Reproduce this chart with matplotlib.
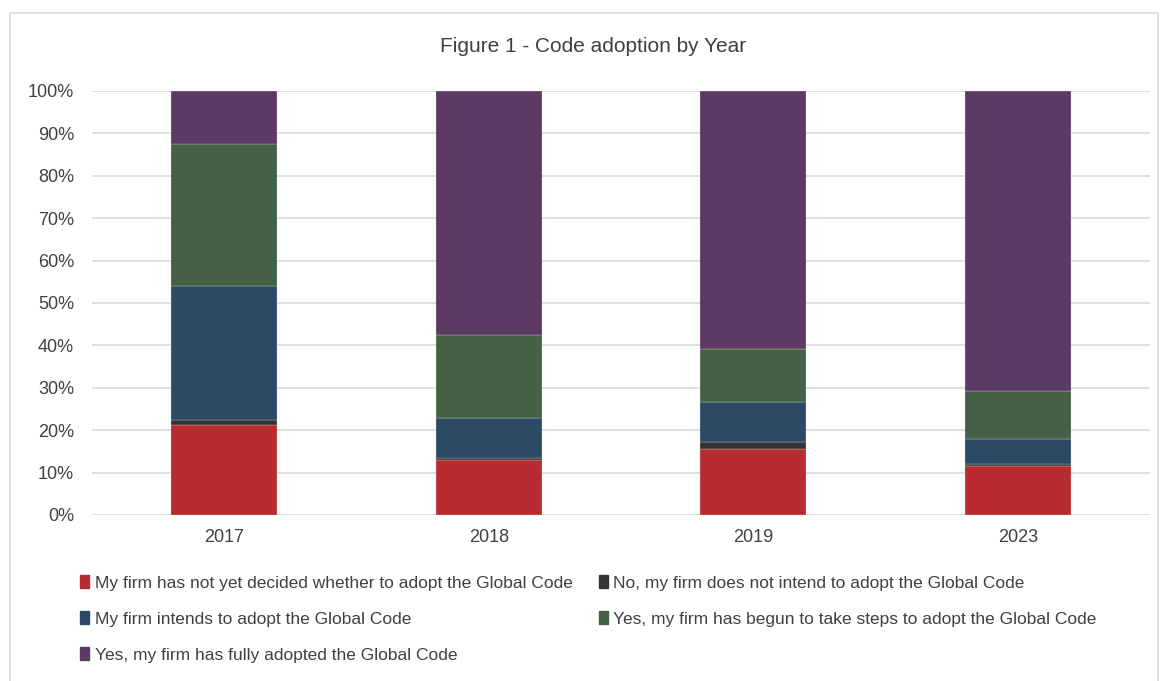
import matplotlib.pyplot as plt
import numpy as np
from matplotlib.patches import Rectangle, Patch
from matplotlib.ticker import PercentFormatter

plt.rcParams['font.family'] = ['Liberation Sans Narrow', 'Liberation Sans', 'DejaVu Sans']

years = ["2017", "2018", "2019", "2023"]
series = [
    "My firm has not yet decided whether to adopt the Global Code",
    "No, my firm does not intend to adopt the Global Code",
    "My firm intends to adopt the Global Code",
    "Yes, my firm has begun to take steps to adopt the Global Code",
    "Yes, my firm has fully adopted the Global Code",
]
not_decided = [21.2, 13.0, 15.6, 11.5]
not_intend = [1.2, 0.5, 1.6, 0.5]
intends = [31.6, 9.4, 9.5, 5.9]
begun = [33.5, 19.6, 12.5, 11.3]
fully = [12.5, 57.5, 60.8, 70.8]
colors = ["#B82C2F", "#333333", "#2C4A66", "#466046", "#5C3A63"]

values = [not_decided, not_intend, intends, begun, fully]

fig = plt.figure(figsize=(11.68, 6.81), dpi=100)
ax = fig.add_axes([0.0788, 0.2438, 0.9058, 0.6226])

x = np.arange(len(years))
bottom = np.zeros(len(years))
for vals, col in zip(values, colors):
    v = np.array(vals) / 100
    ax.bar(x, v, 0.4, bottom=bottom, color=col, edgecolor="#e0e0e0", linewidth=0.2, zorder=3)
    bottom += v

ax.set_xlim(-0.5, len(years) - 0.5)
ax.set_ylim(0, 1)
ax.set_yticks(np.arange(0, 1.01, 0.1))
ax.yaxis.set_major_formatter(PercentFormatter(1.0, decimals=0))
ax.set_xticks(x)
ax.set_xticklabels(years)
ax.grid(axis="y", color="#d9d9d9", linewidth=1.2, zorder=0)
for s in ax.spines.values():
    s.set_visible(False)
ax.tick_params(length=0, labelsize=13, colors="#404040")
ax.tick_params(axis="x", pad=10)
ax.tick_params(axis="y", pad=13)

fig.text(0.508, 0.932, "Figure 1 - Code adoption by Year", ha="center", va="center",
         fontsize=15, color="#404040")

# legend in row-major order
order = [0, 2, 4, 1, 3]
handles = [Patch(color=colors[i]) for i in order]
labels = [series[i] for i in order]
fig.legend(handles, labels, ncol=2, loc="upper left", bbox_to_anchor=(0.055, 0.178),
           frameon=False, prop={"size": 12.5},
           labelcolor="#404040", handlelength=0.55, handleheight=0.7, handletextpad=0.3,
           columnspacing=1.5, labelspacing=1.2)

fig.patches.append(Rectangle((10 / 1168, -0.01), 1148 / 1168, 1 - 13 / 681 + 0.01,
                             transform=fig.transFigure, fill=False, edgecolor="#d9d9d9",
                             linewidth=1.2))

fig.savefig("out.png", dpi=100)
